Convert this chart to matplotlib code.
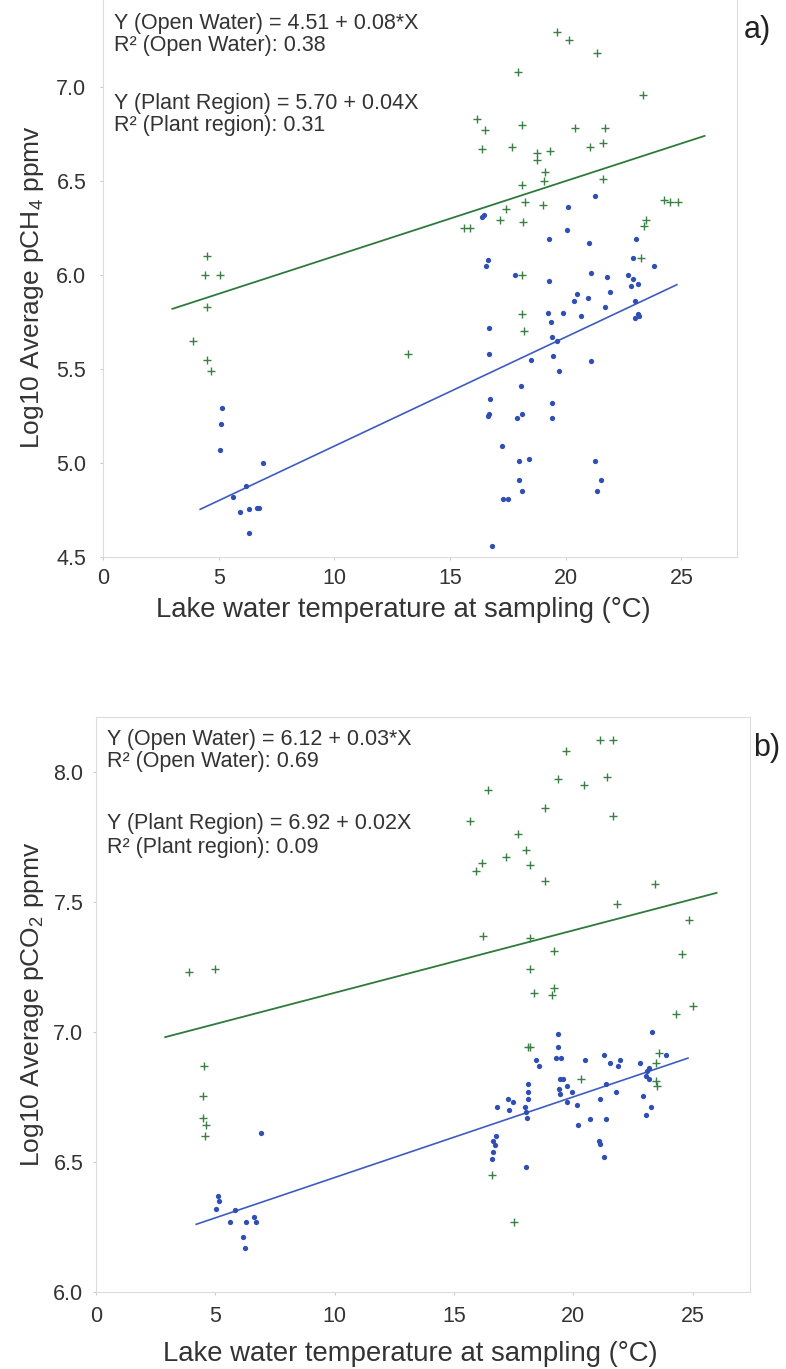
import numpy as np
import matplotlib
matplotlib.use('Agg')
import matplotlib.pyplot as plt

plt.rcParams['font.family'] = ['Liberation Sans', 'DejaVu Sans']
plt.rcParams['mathtext.fontset'] = 'custom'
plt.rcParams['mathtext.rm'] = 'Liberation Sans'
plt.rcParams['mathtext.it'] = 'Liberation Sans'

# ---- panel a) methane ----
a_open_x = [5.15, 5.1, 5.06, 6.9, 6.2, 5.6, 5.9, 6.3, 6.65, 6.75, 6.3,
            21.28, 20.1, 16.4, 16.45, 20.07, 19.28, 21.0, 23.04, 16.65, 16.54, 22.9, 23.8,
            17.8, 19.28, 21.08, 21.77, 22.7, 22.9, 23.1, 22.8, 21.9, 20.47, 20.36, 20.96,
            21.7, 23.0, 19.23, 19.9, 20.65, 23.1, 23.18, 23.0, 19.38, 16.7, 16.68, 19.4,
            19.6, 18.5, 19.45, 21.08, 19.7, 18.08, 16.72, 16.68, 16.63, 17.9, 18.1, 19.4,
            19.4, 17.26, 18.0, 18.4, 21.28, 18.0, 21.53, 18.1, 21.35, 17.3, 17.5, 16.8]
a_open_y = [5.29, 5.21, 5.07, 5.0, 4.88, 4.82, 4.74, 4.755, 4.76, 4.76, 4.63,
            6.42, 6.36, 6.31, 6.32, 6.24, 6.19, 6.17, 6.19, 6.08, 6.05, 6.09, 6.05,
            6.0, 5.97, 6.01, 5.99, 6.0, 5.98, 5.95, 5.94, 5.91, 5.90, 5.86, 5.88,
            5.83, 5.86, 5.80, 5.80, 5.78, 5.79, 5.78, 5.77, 5.75, 5.72, 5.58, 5.67,
            5.65, 5.55, 5.57, 5.54, 5.49, 5.41, 5.34, 5.26, 5.25, 5.24, 5.26, 5.32,
            5.24, 5.09, 5.01, 5.02, 5.01, 4.91, 4.91, 4.85, 4.85, 4.81, 4.81, 4.56]
a_plant_x = [3.9, 4.5, 4.5, 4.67, 13.2, 4.5, 4.4, 5.06,
             19.64, 20.14, 21.37, 17.94, 23.35, 16.15, 16.5, 18.1, 20.4, 21.7, 16.36, 17.66,
             18.74, 18.74, 19.3, 21.05, 21.6, 19.1, 19.06, 21.6, 18.1, 18.24, 19.03, 17.4,
             17.14, 18.15, 15.6, 15.85, 24.26, 24.5, 24.86, 23.46, 23.4, 23.27, 18.1, 18.1, 18.2]
a_plant_y = [5.65, 5.83, 5.55, 5.49, 5.58, 6.10, 6.0, 6.0,
             7.29, 7.25, 7.18, 7.08, 6.96, 6.83, 6.77, 6.80, 6.78, 6.78, 6.67, 6.68,
             6.65, 6.61, 6.66, 6.68, 6.70, 6.55, 6.50, 6.51, 6.48, 6.39, 6.37, 6.35,
             6.29, 6.28, 6.25, 6.25, 6.40, 6.39, 6.39, 6.29, 6.26, 6.09, 6.0, 5.79, 5.70]
a_open_fit = [0.058, 4.51]
a_open_span = [4.2, 24.8]
a_plant_fit = [0.040, 5.70]
a_plant_span = [3.0, 26.0]
a_notes = ['Y (Open Water) = 4.51 + 0.08*X', 'R² (Open Water): 0.38',
           'Y (Plant Region) = 5.70 + 0.04X', 'R² (Plant region): 0.31']

# ---- panel b) carbon dioxide ----
b_open_x = [5.1, 5.15, 5.03, 5.84, 5.63, 6.29, 6.64, 6.71, 6.15, 6.25, 6.92,
            19.34, 19.34, 19.27, 19.48, 23.3, 18.44, 18.58, 20.5, 21.27, 21.55, 21.95, 21.86,
            22.8, 23.9, 23.07, 23.16, 23.05, 23.16, 19.42, 19.56, 19.38, 19.42, 19.73, 19.94,
            18.12, 18.12, 18.12, 21.37, 21.8, 22.93, 21.13, 19.73, 20.15, 17.28, 17.49, 17.3,
            16.8, 17.98, 18.0, 18.05, 23.26, 23.03, 20.71, 21.37, 20.2, 16.76, 16.65, 16.72,
            21.06, 21.1, 16.62, 16.6, 18.0, 21.3]
b_open_y = [6.37, 6.35, 6.32, 6.315, 6.27, 6.27, 6.29, 6.27, 6.21, 6.17, 6.61,
            6.99, 6.94, 6.90, 6.90, 7.00, 6.89, 6.87, 6.89, 6.91, 6.88, 6.89, 6.87,
            6.88, 6.91, 6.85, 6.86, 6.83, 6.82, 6.82, 6.82, 6.78, 6.76, 6.79, 6.77,
            6.80, 6.77, 6.74, 6.80, 6.77, 6.755, 6.74, 6.73, 6.72, 6.74, 6.73, 6.70,
            6.71, 6.71, 6.69, 6.67, 6.71, 6.68, 6.665, 6.665, 6.64, 6.60, 6.58, 6.565,
            6.58, 6.57, 6.54, 6.51, 6.48, 6.52]
b_plant_x = [3.88, 4.99, 4.54, 4.5, 4.5, 4.6, 4.58,
             21.1, 21.65, 19.7, 16.44, 19.35, 20.43, 21.4, 18.8, 21.66, 15.67, 17.7, 18.02,
             17.18, 16.16, 15.92, 18.2, 18.82, 23.42, 21.83, 24.86, 16.23, 18.2, 19.2, 24.56,
             18.2, 18.33, 19.17, 19.1, 25.0, 24.3, 18.1, 18.2, 20.3, 23.6, 23.45, 23.45, 23.5,
             16.6, 17.5]
b_plant_y = [7.23, 7.24, 6.87, 6.755, 6.67, 6.64, 6.60,
             8.12, 8.12, 8.08, 7.93, 7.97, 7.95, 7.98, 7.86, 7.83, 7.81, 7.76, 7.70,
             7.67, 7.65, 7.62, 7.64, 7.58, 7.57, 7.49, 7.43, 7.37, 7.36, 7.31, 7.30,
             7.24, 7.15, 7.17, 7.14, 7.10, 7.07, 6.94, 6.94, 6.82, 6.92, 6.88, 6.81, 6.79,
             6.45, 6.27]
b_open_fit = [0.031, 6.13]
b_open_span = [4.2, 24.8]
b_plant_fit = [0.024, 6.91]
b_plant_span = [2.9, 26.0]
b_notes = ['Y (Open Water) = 6.12 + 0.03*X', 'R² (Open Water): 0.69',
           'Y (Plant Region) = 6.92 + 0.02X', 'R² (Plant region): 0.09']

green = '#3b7f45'
blue = '#2f4fb4'
txt = '#333333'
W, H = 786, 1369

fig = plt.figure(figsize=(W / 100, H / 100), dpi=100)
# panel a runs off the top edge of the page, so its top frame is not seen
ax_a = fig.add_axes([103 / W, 1 - 557 / H, 634 / W, 565 / H])
ax_b = fig.add_axes([96 / W, 1 - 1292 / H, 654 / W, 575 / H])


def draw_panel(ax, ox, oy, px, py, ofit, ospan, pfit, pspan, notes, ylim, yticks,
               ypad, xpad, note_px):
    xs = np.array(pspan)
    ax.plot(xs, np.polyval(pfit, xs), color='#2e7a3c', lw=1.3, zorder=2)
    xs = np.array(ospan)
    ax.plot(xs, np.polyval(ofit, xs), color='#3d5cc0', lw=1.2, zorder=2)
    ax.plot(px, py, '+', color=green, ms=6.2, mew=1.0, ls='none', zorder=3)
    ax.plot(ox, oy, 'o', color=blue, ms=3.8, mew=0, ls='none', zorder=3)
    ax.set_xlim(0, 27.4)
    ax.set_ylim(*ylim)
    ax.set_xticks([0, 5, 10, 15, 20, 25])
    ax.set_yticks(yticks)
    ax.set_yticklabels(['%.1f' % v for v in yticks])
    for s in ax.spines.values():
        s.set_color('#dcdcdc')
        s.set_linewidth(0.8)
    ax.tick_params(axis='both', colors='#cccccc', labelcolor=txt, labelsize=15.5, length=2)
    ax.tick_params(axis='y', pad=ypad)
    ax.tick_params(axis='x', pad=xpad)
    # regression notes, placed in pixels below the panel top
    for t, yy in zip(notes, note_px):
        ax.annotate(t, xy=(0.017, 1), xycoords='axes fraction', xytext=(0, -yy),
                    textcoords='offset pixels', fontsize=15.5, color=txt,
                    ha='left', va='center')


draw_panel(ax_a, a_open_x, a_open_y, a_plant_x, a_plant_y, a_open_fit, a_open_span,
           a_plant_fit, a_plant_span, a_notes, (4.5, 4.5 + 565 / 188),
           [4.5, 5.0, 5.5, 6.0, 6.5, 7.0], 10, 6, [31, 53, 111, 134])
draw_panel(ax_b, b_open_x, b_open_y, b_plant_x, b_plant_y, b_open_fit, b_open_span,
           b_plant_fit, b_plant_span, b_notes, (6.0, 8.21),
           [6.0, 6.5, 7.0, 7.5, 8.0], 7, 8, [23, 45, 106, 130])

fig.text(403 / W, 1 - 610 / H, 'Lake water temperature at sampling (°C)', fontsize=19.8,
         color=txt, ha='center', va='center')
fig.text(410 / W, 1 - 1354 / H, 'Lake water temperature at sampling (°C)', fontsize=19.8,
         color=txt, ha='center', va='center')
fig.text(33 / W, 1 - 287 / H, 'Log10 Average pCH$_4$ ppmv', fontsize=19, color=txt,
         rotation=90, ha='center', va='center')
fig.text(33 / W, 1 - 1004 / H, 'Log10 Average pCO$_2$ ppmv', fontsize=19, color=txt,
         rotation=90, ha='center', va='center')
fig.text(757 / W, 1 - 30 / H, 'a)', fontsize=22, color='#222222', ha='center', va='center')
fig.text(753 / W, 1 - 748 / H, 'b)', fontsize=22, color='#222222', ha='left', va='center')

fig.savefig('out.png', dpi=100, facecolor='white')
